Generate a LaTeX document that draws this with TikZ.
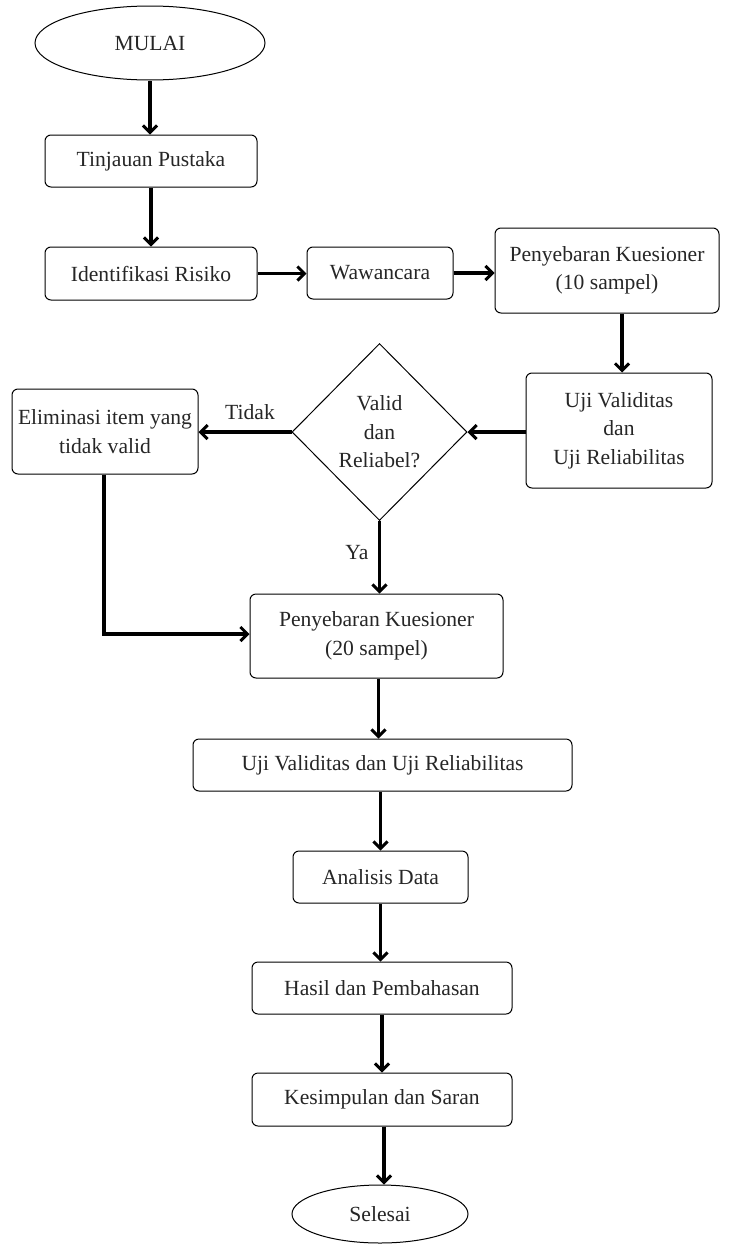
\documentclass[tikz,border=0pt]{standalone}
\usepackage{fontspec}
\setmainfont{Liberation Serif}
\usetikzlibrary{shapes.geometric,arrows.meta}
\begin{document}
\begin{tikzpicture}[x=1pt,y=-1pt,
  every node/.style={font=\fontsize{21.6}{28.5}\selectfont, inner sep=0pt, align=center, text=black!85},
  box/.style={draw, line width=1pt, rounded corners=6pt},
  term/.style={draw, line width=1pt, ellipse},
  dec/.style={draw, line width=1pt, diamond},
  conn/.style={line width=3.2pt, -{Straight Barb[length=7pt,width=14pt,line width=3pt]}},
  plain/.style={line width=3.2pt}
]
\useasboundingbox (0,0) rectangle (739,1245);
\node[term, minimum width=230pt, minimum height=74pt] (mulai) at (150,43) {MULAI};
\node[box, minimum width=212pt, minimum height=52pt] (tinjau) at (151,161) {Tinjauan Pustaka};
\node[box, minimum width=212pt, minimum height=53pt] (ident) at (151,273.5) {Identifikasi Risiko};
\node[box, minimum width=146pt, minimum height=52pt] (waw) at (380,273) {Wawancara};
\node[box, minimum width=224pt, minimum height=85pt] (peny10) at (607,270.5) {Penyebaran Kuesioner\\(10 sampel)};
\node[box, minimum width=186pt, minimum height=115pt] (uji1) at (619,430.5) {Uji Validitas\\dan\\Uji Reliabilitas};
\node[dec, minimum width=175pt, minimum height=177pt] (dia) at (379.5,432) {Valid\\dan\\Reliabel?};
\node[box, minimum width=186pt, minimum height=85pt] (elim) at (105,431.5) {Eliminasi item yang\\tidak valid};
\node[box, minimum width=253pt, minimum height=84pt] (peny20) at (376.5,636) {Penyebaran Kuesioner\\(20 sampel)};
\node[box, minimum width=379pt, minimum height=52pt] (uji2) at (382.5,765) {Uji Validitas dan Uji Reliabilitas};
\node[box, minimum width=175pt, minimum height=52pt] (anal) at (380.5,877) {Analisis Data};
\node[box, minimum width=260pt, minimum height=52pt] (hasil) at (382,988) {Hasil dan Pembahasan};
\node[box, minimum width=260pt, minimum height=53pt] (kesim) at (382,1099.5) {Kesimpulan dan Saran};
\node[term, minimum width=176pt, minimum height=58pt] (selesai) at (380,1214) {Selesai};
\node (tidak) at (250,412) {Tidak};
\node (ya) at (357,553) {Ya};
\coordinate (bend) at (104,634);

\draw[conn] (mulai.south) -- (mulai.south |- tinjau.north);
\draw[conn] (tinjau.south) -- (tinjau.south |- ident.north);
\draw[conn] (ident.east) -- (ident.east -| waw.west);
\draw[conn] (waw.east) -- (waw.east -| peny10.west);
\draw[conn] ([xshift=15pt]peny10.south) -- ([xshift=15pt]peny10.south |- uji1.north);
\draw[conn] (uji1.west |- dia.east) -- (dia.east);
\draw[conn] (dia.west) -- (dia.west -| elim.east);
\draw[conn] (dia.south) -- (dia.south |- peny20.north);
\draw[conn] (elim.south -| bend) -- (bend) -- (bend -| peny20.west);
\draw[conn] ([xshift=2pt]peny20.south) -- ([xshift=2pt]peny20.south |- uji2.north);
\draw[conn] ([xshift=-2pt]uji2.south) -- ([xshift=-2pt]uji2.south |- anal.north);
\draw[conn] (anal.south) -- (anal.south |- hasil.north);
\draw[conn] (hasil.south) -- (hasil.south |- kesim.north);
\draw[conn] ([xshift=2pt]kesim.south) -- ([xshift=2pt]kesim.south |- selesai.north);
\end{tikzpicture}
\end{document}
